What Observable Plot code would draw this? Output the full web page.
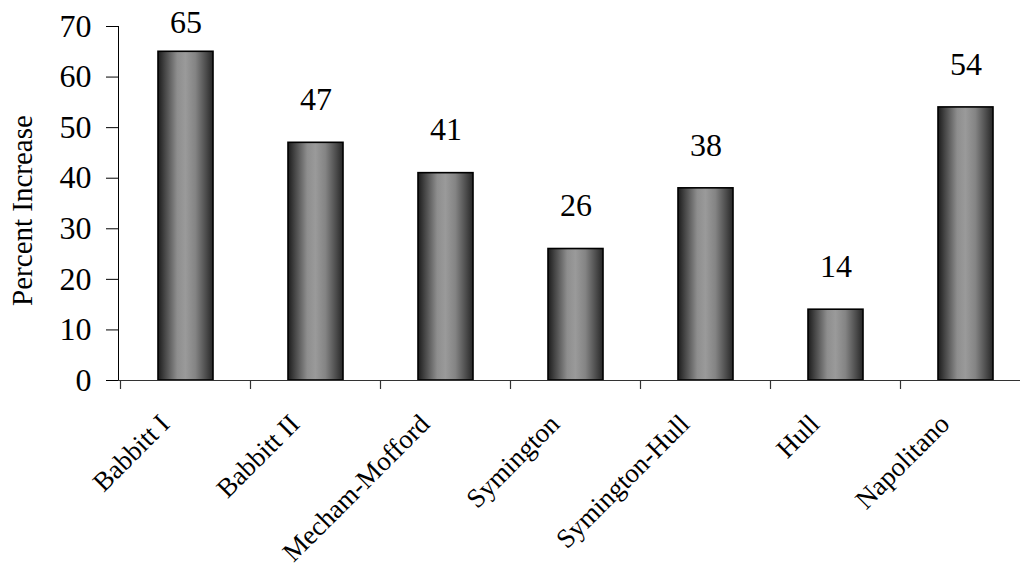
<!DOCTYPE html>
<html>
<head>
<meta charset="utf-8">
<script src="https://cdn.jsdelivr.net/npm/d3@7"></script>
<script src="https://cdn.jsdelivr.net/npm/@observablehq/plot@0.6"></script>
<style>
  html, body { margin: 0; padding: 0; background: #fff; }
  svg { display: block; }
</style>
</head>
<body>
<div id="chart"></div>
<script>
// Percent increase by case
const cases = ["Babbitt I", "Babbitt II", "Mecham-Mofford", "Symington", "Symington-Hull", "Hull", "Napolitano"];
const increases = [65, 47, 41, 26, 38, 14, 54];
const yTicks = [0, 10, 20, 30, 40, 50, 60, 70];

const data = cases.map((name, i) => ({name, value: increases[i]}));

const font = "Liberation Serif";

const chart = Plot.plot({
  width: 1024,
  height: 573,
  marginLeft: 118,
  marginRight: 4,
  marginTop: 26,
  marginBottom: 193,
  style: {fontFamily: font, color: "#000", background: "#fff"},
  x: {type: "band", domain: cases, range: [118, 1032], paddingInner: 0.58, paddingOuter: 0.29, axis: null},
  y: {domain: [0, 70], axis: null},
  marks: [
    // vertical axis line
    Plot.frame({anchor: "left", stroke: "#000", strokeWidth: 1}),
    Plot.axisY({ticks: yTicks, tickSize: 12, tickPadding: 15, fontSize: 32, fontFamily: font, label: null, stroke: "#000"}),
    Plot.barY(data, {x: "name", y: "value", fill: "url(#barShade)", stroke: "#000", strokeWidth: 1.6}),
    Plot.ruleY([0], {stroke: "#333", strokeWidth: 1.2}),
    // value labels above bars
    Plot.text(data.filter(d => d.value < 60), {x: "name", y: "value", text: d => String(d.value), dy: -43, lineAnchor: "middle", fontSize: 32, fontFamily: font, fill: "#000"}),
    Plot.text(data.filter(d => d.value >= 60), {x: "name", y: "value", text: d => String(d.value), dy: -29, lineAnchor: "middle", fontSize: 32, fontFamily: font, fill: "#000"}),
    // rotated category labels
    Plot.text(cases, {x: d => d, frameAnchor: "bottom", text: d => d, rotate: -45, textAnchor: "end", lineAnchor: "middle", dx: -21, dy: 39, fontSize: 27, fontFamily: font, fill: "#000"}),
    // y axis title
    Plot.text(["Percent Increase"], {frameAnchor: "left", text: d => d, rotate: -90, textAnchor: "middle", dx: -96, dy: 7, fontSize: 29, fontFamily: font, fill: "#000"})
  ]
});

// horizontal shading for the bars
const svg = d3.select(chart);
const defs = svg.insert("defs", ":first-child");
const grad = defs.append("linearGradient").attr("id", "barShade").attr("x1", "0").attr("x2", "1").attr("y1", "0").attr("y2", "0");
[[0, "#1c1c1c"], [0.12, "#444"], [0.35, "#8e8e8e"], [0.5, "#9a9a9a"], [0.68, "#848484"], [0.88, "#4a4a4a"], [1, "#262626"]]
  .forEach(([o, c]) => grad.append("stop").attr("offset", o).attr("stop-color", c));

// category boundary ticks below the horizontal axis
const x = chart.scale("x");
const y = chart.scale("y");
const y0 = y.apply(0);
const gap = (x.step - x.bandwidth) / 2;
const bounds = cases.map(c => x.apply(c) - gap);
svg.append("g")
  .attr("stroke", "#333")
  .attr("stroke-width", 1.2)
  .selectAll("line")
  .data(bounds)
  .join("line")
  .attr("x1", d => d).attr("x2", d => d)
  .attr("y1", y0).attr("y2", y0 + 9);

document.getElementById("chart").appendChild(chart);
</script>
</body>
</html>
